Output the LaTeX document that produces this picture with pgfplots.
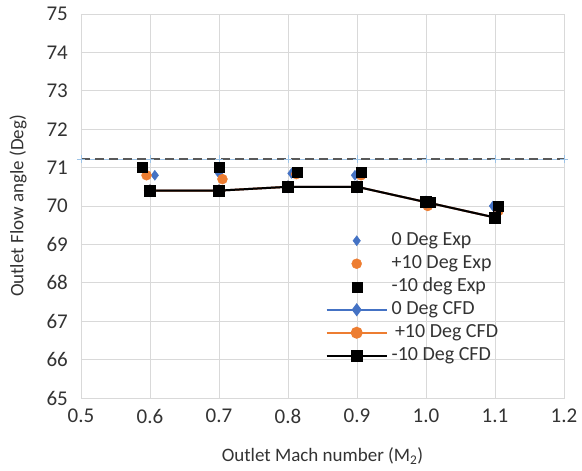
\documentclass[border=0pt]{standalone}
\usepackage{fontspec}
\setmainfont{Carlito}
\usepackage{pgfplots}
\pgfplotsset{compat=1.18}
\definecolor{cblue}{HTML}{4472C4}
\definecolor{corange}{HTML}{ED7D31}
\definecolor{lblue}{HTML}{9DC3E6}
\definecolor{gridc}{HTML}{D9D9D9}
\definecolor{dashc}{HTML}{595959}
\begin{document}
\begin{tikzpicture}
\begin{axis}[
  scale only axis, width=483pt, height=384pt,
  xmin=0.5, xmax=1.2, ymin=65, ymax=75,
  xtick={0.5,0.6,0.7,0.8,0.9,1.0,1.1,1.2},
  xticklabels={0.5,0.6,0.7,0.8,0.9,1.0,1.1,1.2},
  ytick={65,66,67,68,69,70,71,72,73,74,75},
  grid=major, grid style={gridc, line width=0.8pt},
  axis line style={gridc, line width=0.8pt},
  major tick length=0pt,
  /pgf/number format/assume math mode=true,
  tick label style={font=\fontsize{21}{24}\selectfont, text=black!80},
  yticklabel style={inner sep=0pt, anchor=east, xshift=-13pt},
  xticklabel style={inner sep=0pt, anchor=north, yshift=-11pt},
  xlabel={Outlet Mach number (M\textsubscript{2})},
  ylabel={Outlet Flow angle (Deg)},
  xlabel style={font=\fontsize{19}{22}\selectfont, text=black!80, at={(axis description cs:0.5,0)}, anchor=center, yshift=-58pt},
  ylabel style={font=\fontsize{19}{22}\selectfont, text=black!80, at={(axis description cs:0,0.5)}, anchor=center, yshift=63pt},
  legend style={at={(0.5,0.44)}, anchor=north west, draw=none, fill=none,
     font=\fontsize{20}{22}\selectfont, text=black!80,
     nodes={inner sep=0pt, text height=14pt, text depth=5pt}, row sep=4pt, column sep=4pt},
  legend cell align=left,
  legend image code/.code={\draw[mark repeat=2,mark phase=2] plot coordinates {(0pt,0pt)(30pt,0pt)(60pt,0pt)};},
]
% reference line (not in legend)
\addplot[lblue, line width=0.8pt, mark=+, mark size=4pt, forget plot] coordinates {
(0.5,71.22)(0.6,71.22)(0.7,71.22)(0.8,71.22)(0.9,71.22)(1.0,71.22)(1.1,71.22)(1.2,71.22)};
\addplot[dashc, line width=1.6pt, dash pattern=on 9pt off 5pt, forget plot] coordinates {
(0.5,71.22)(1.2,71.22)};
% experiments
\addplot[only marks, mark=diamond*, mark size=5pt, color=cblue] coordinates {
(0.607,70.8)(0.70,70.85)(0.805,70.85)(0.897,70.8)(1.0,70.1)(1.097,70.0)};
\addlegendentry{0 Deg Exp}
\addplot[only marks, mark=*, mark size=5pt, color=corange] coordinates {
(0.595,70.8)(0.705,70.7)(0.812,70.83)(0.906,70.8)(1.0025,70.0)(1.105,69.87)};
\addlegendentry{+10 Deg Exp}
\addplot[only marks, mark=square*, mark size=5pt, color=black] coordinates {
(0.589,71.0)(0.701,71.0)(0.813,70.89)(0.906,70.89)(1.006,70.1)(1.105,70.0)};
\addlegendentry{-10 deg Exp}
% CFD
\addplot[cblue, line width=2pt, mark=diamond*, mark size=5pt] coordinates {
(0.6,70.4)(0.7,70.4)(0.8,70.5)(0.9,70.5)(1.0,70.1)(1.1,69.7)};
\addlegendentry{0 Deg CFD}
\addplot[corange, line width=2pt, mark=*, mark size=5pt] coordinates {
(0.6,70.4)(0.7,70.4)(0.8,70.5)(0.9,70.5)(1.0,70.1)(1.1,69.7)};
\addlegendentry{\,+10 Deg CFD}
\addplot[black, line width=2pt, mark=square*, mark size=5pt] coordinates {
(0.6,70.4)(0.7,70.4)(0.8,70.5)(0.9,70.5)(1.0,70.1)(1.1,69.7)};
\addlegendentry{-10 Deg CFD}
\end{axis}
\path ([xshift=-81pt,yshift=-72pt]current axis.south west) rectangle ([xshift=18pt,yshift=14pt]current axis.north east);
\end{tikzpicture}
\end{document}
